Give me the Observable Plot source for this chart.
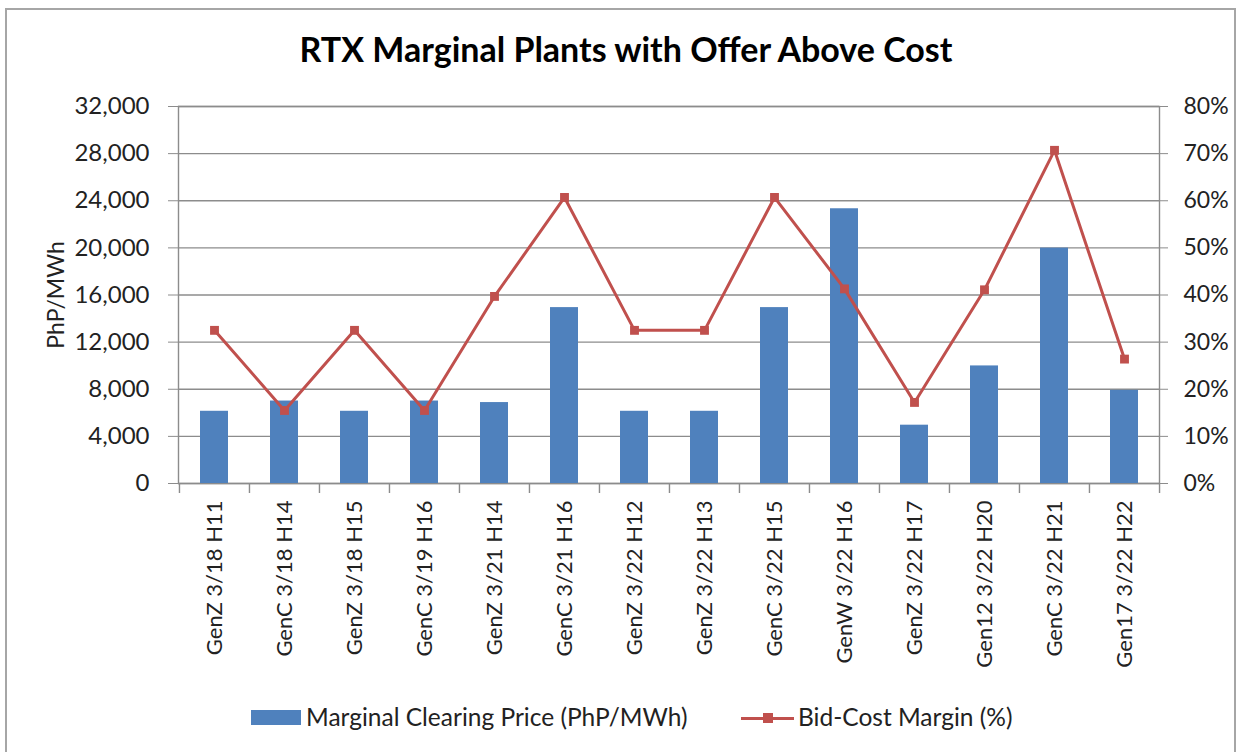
<!DOCTYPE html>
<html>
<head>
<meta charset="utf-8">
<script src="https://cdn.jsdelivr.net/npm/d3@7"></script>
<script src="https://cdn.jsdelivr.net/npm/@observablehq/plot@0.6"></script>
<style>
  body { margin: 0; background: #fff; }
  #wrap { position: relative; width: 1243px; height: 752px; overflow: hidden; background: #fff; font-family: Lato, sans-serif; color: #222; }
  #frame { position: absolute; left: 5px; top: 8px; width: 1231px; height: 780px; border: 2px solid #a6a6a6; box-sizing: border-box; }
  #title { position: absolute; left: 0; width: 1252px; top: 28px; text-align: center; font-weight: bold; font-size: 34px; color: #000; }
  #chart { position: absolute; left: 0; top: 80px; }
  .leg { position: absolute; font-size: 24.5px; color: #222; line-height: 1; }
</style>
</head>
<body>
<div id="wrap">
  <div id="frame"></div>
  <div id="title">RTX Marginal Plants with Offer Above Cost</div>
  <div id="chart"></div>
  <div style="position:absolute;left:251px;top:710px;width:50px;height:15px;background:#4F81BD"></div>
  <div class="leg" style="left:306px;top:705px">Marginal Clearing Price (PhP/MWh)</div>
  <div style="position:absolute;left:741px;top:717px;width:53px;height:3px;background:#C0504D"></div>
  <div style="position:absolute;left:763px;top:713px;width:10px;height:10px;background:#C0504D"></div>
  <div class="leg" style="left:798px;top:705px">Bid-Cost Margin (%)</div>
</div>
<script>
const categories = ["GenZ 3/18 H11","GenC 3/18 H14","GenZ 3/18 H15","GenC 3/19 H16","GenZ 3/21 H14","GenC 3/21 H16","GenZ 3/22 H12","GenZ 3/22 H13","GenC 3/22 H15","GenW 3/22 H16","GenZ 3/22 H17","Gen12 3/22 H20","GenC 3/22 H21","Gen17 3/22 H22"];
const clearingPrice = [6130, 7000, 6130, 7000, 6870, 14930, 6130, 6130, 14930, 23320, 4950, 9980, 19980, 7910];
const bidCostMargin = [32.5, 15.5, 32.5, 15.5, 39.7, 60.7, 32.5, 32.5, 60.7, 41.3, 17.2, 41.1, 70.7, 26.4];
const leftTicks = [0, 4000, 8000, 12000, 16000, 20000, 24000, 28000, 32000];
const rightTicks = [0, 10, 20, 30, 40, 50, 60, 70, 80];

const ratio = 32000 / 80;
const data = categories.map((c, i) => ({cat: c, price: clearingPrice[i], margin: bidCostMargin[i]}));

const W = 1243, H = 600, mL = 178, mR = 84, mT = 26, mB = 197;
const step = (W - mL - mR) / categories.length;
const grid = "#8c8c8c";

const plot = Plot.plot({
  width: W, height: H,
  marginLeft: mL, marginRight: mR, marginTop: mT, marginBottom: mB,
  style: {fontFamily: "Lato, sans-serif", fontSize: "22px", color: "#222", background: "transparent"},
  x: {type: "band", domain: categories, paddingInner: 0.6, paddingOuter: 0.3, axis: null},
  y: {domain: [0, 32000], axis: null},
  marks: [
    Plot.ruleY(leftTicks, {stroke: grid, strokeWidth: 1.4}),
    Plot.frame({stroke: grid, strokeWidth: 1.4}),
    Plot.ruleX(categories, {x: d => d, dx: -step / 2, y1: 0, y2: -850, stroke: grid, strokeWidth: 1.4}),
    Plot.ruleX([categories[categories.length - 1]], {x: d => d, dx: step / 2, y1: 0, y2: -850, stroke: grid, strokeWidth: 1.4}),
    Plot.barY(data, {x: "cat", y: "price", fill: "#4F81BD"}),
    Plot.line(data, {x: "cat", y: d => d.margin * ratio, stroke: "#C0504D", strokeWidth: 3}),
    Plot.dot(data, {x: "cat", y: d => d.margin * ratio, symbol: "square", r: 5, fill: "#C0504D"}),
    Plot.axisY({anchor: "left", label: null, ticks: leftTicks, tickSize: 10, tickPadding: 19, stroke: grid, tickFormat: d3.format(","), fontSize: 24}),
    Plot.axisY({anchor: "right", label: null, ticks: rightTicks.map(t => t * ratio), tickSize: 8, tickPadding: 16, stroke: grid, tickFormat: d => (d / ratio) + "%", fontSize: 23}),
    Plot.axisX({anchor: "bottom", label: null, tickSize: 0, tickPadding: 17, tickRotate: -90, fontSize: 22}),
    Plot.text(["PhP/MWh"], {frameAnchor: "left", dx: -122, rotate: -90, textAnchor: "middle", fontSize: 23, fill: "#222"})
  ]
});
document.getElementById("chart").appendChild(plot);
</script>
</body>
</html>
